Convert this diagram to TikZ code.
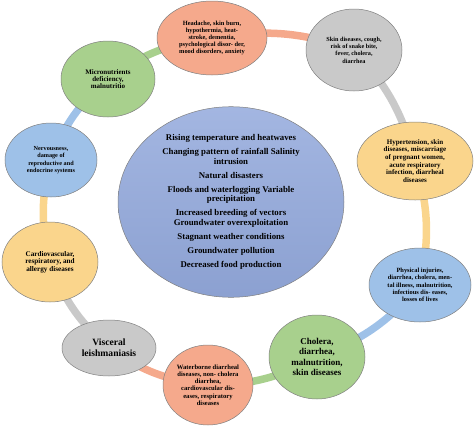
\documentclass[tikz,border=0pt]{standalone}
\usepackage{fontspec}
\setmainfont{Liberation Serif}
\usetikzlibrary{shapes.geometric, backgrounds}
\definecolor{fillsalmon}{HTML}{F5A98C}
\definecolor{fillgray}{HTML}{C9C9C9}
\definecolor{fillgold}{HTML}{FAD58C}
\definecolor{fillblue}{HTML}{9EC1E8}
\definecolor{fillgreen}{HTML}{A8D08D}
\definecolor{fillcore}{HTML}{93A9DC}

\begin{document}
\begin{tikzpicture}[
  x=1pt, y=-1pt,
  effect/.style={ellipse, draw=black!50, line width=0.5pt, inner sep=0pt,
    align=center, font=\bfseries\fontsize{6.4}{7.2}\selectfont},
  big/.style={effect, font=\bfseries\fontsize{9}{10.3}\selectfont},
  core/.style={effect, top color=fillcore!85!white, bottom color=fillcore!95!black,
    minimum width=226pt, minimum height=182pt,
    font=\bfseries\fontsize{8.8}{9.6}\selectfont},
  link/.style={line width=7.5pt, bend left=14}
]
\useasboundingbox (0,0) rectangle (474,426);

% centre: the climate drivers
\node[core] (drivers) at (231, 202) {Rising temperature and heatwaves\\[4.4pt]
  Changing pattern of rainfall Salinity\\intrusion\\[4.4pt]
  Natural disasters\\[4.4pt]
  Floods and waterlogging Variable\\precipitation\\[4.4pt]
  Increased breeding of vectors\\Groundwater overexploitation\\[4.4pt]
  Stagnant weather conditions\\[4.4pt]
  Groundwater pollution\\[4.4pt]
  Decreased food production};

% ring of health effects
\node[effect, fill=fillsalmon, minimum width=110pt, minimum height=74pt] (headache) at (212, 38)
  {Headache, skin burn,\\hypothermia, heat-\\stroke, dementia,\\psychological disor- der,\\mood disorders, anxiety};
\node[effect, fill=fillgray, minimum width=96pt, minimum height=82pt, font=\bfseries\fontsize{6.2}{7.3}\selectfont] (skin) at (354, 50)
  {Skin diseases, cough,\\risk of snake bite,\\fever, cholera,\\diarrhea};
\node[effect, fill=fillgold, minimum width=116pt, minimum height=78pt, font=\bfseries\fontsize{7}{7.7}\selectfont] (hyper) at (415, 161)
  {Hypertension, skin\\diseases, miscarriage\\of pregnant women,\\acute respiratory\\infection, diarrheal\\diseases};
\node[effect, fill=fillblue, minimum width=102pt, minimum height=74pt] (injury) at (420, 285)
  {Physical injuries,\\diarrhea, cholera, men-\\tal illness, malnutrition,\\infectious dis- eases,\\losses of lives};
\node[big, fill=fillgreen, minimum width=96pt, minimum height=84pt] (cholera) at (317, 357)
  {Cholera,\\diarrhea,\\malnutrition,\\skin diseases};
\node[effect, fill=fillsalmon, minimum width=90pt, minimum height=80pt, font=\bfseries\fontsize{6.6}{7.2}\selectfont] (water) at (208, 385)
  {Waterborne diarrheal\\diseases, non- cholera\\diarrhea,\\cardiovascular dis-\\eases, respiratory\\diseases};
\node[big, fill=fillgray, minimum width=94pt, minimum height=56pt, font=\bfseries\fontsize{9.6}{10.8}\selectfont] (visceral) at (109, 348)
  {Visceral\\leishmaniasis};
\node[effect, fill=fillgold, minimum width=96pt, minimum height=80pt, font=\bfseries\fontsize{7.2}{7.7}\selectfont] (cardio) at (50, 262)
  {Cardiovascular,\\respiratory, and\\allergy diseases};
\node[effect, fill=fillblue, minimum width=92pt, minimum height=74pt, font=\bfseries\fontsize{6.2}{7.3}\selectfont] (nerve) at (51, 160)
  {Nervousness,\\damage of\\reproductive and\\endocrine systems};
\node[effect, fill=fillgreen, minimum width=94pt, minimum height=76pt, font=\bfseries\fontsize{7}{7.2}\selectfont] (micro) at (108, 79)
  {Micronutrients\\deficiency,\\malnutritio};

\begin{scope}[on background layer]
\draw[link, fillgreen] (micro.center) to (headache.center);
\draw[link, fillsalmon] (headache.center) to (skin.center);
\draw[link, fillgray] (skin.center) to (hyper.center);
\draw[link, fillgold] (hyper.center) to (injury.center);
\draw[link, fillblue] (injury.center) to (cholera.center);
\draw[link, fillgreen] (cholera.center) to (water.center);
\draw[link, fillsalmon] (water.center) to (visceral.center);
\draw[link, fillgray] (visceral.center) to (cardio.center);
\draw[link, fillgold] (cardio.center) to (nerve.center);
\draw[link, fillblue] (nerve.center) to (micro.center);
\end{scope}
\end{tikzpicture}
\end{document}
